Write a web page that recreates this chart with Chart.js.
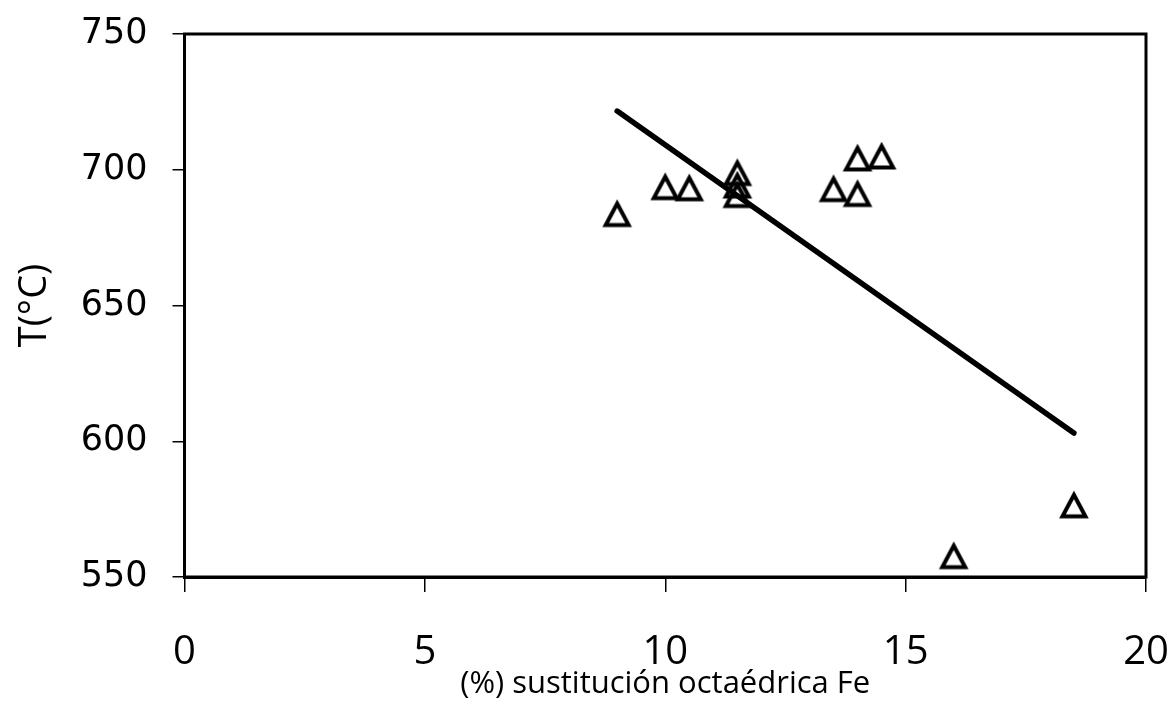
<!DOCTYPE html>
<html>
<head>
<meta charset="utf-8">
<script src="https://cdn.jsdelivr.net/npm/chart.js@4.4.1/dist/chart.umd.min.js"></script>
<style>
  html, body { margin: 0; padding: 0; background: #fff; }
  #wrap { width: 1175px; height: 704px; }
</style>
</head>
<body>
<div id="wrap"><canvas id="grafico" width="1175" height="704"></canvas></div>
<script>
// Sustitución octaédrica de Fe (%) frente a temperatura (°C)
const sustitucionFe = [9.0, 10.0, 10.5, 11.5, 11.5, 11.5, 13.5, 14.0, 14.0, 14.5, 16.0, 18.5];
const temperatura   = [683.5, 693.4, 693.0, 698.6, 694.0, 690.5, 692.7, 690.9, 704.0, 704.7, 557.5, 576.2];

// recta de ajuste (extremos)
const rectaX = [9.0, 18.5];
const rectaY = [721.6, 603.0];

const ticksX = [0, 5, 10, 15, 20];
const ticksY = [550, 600, 650, 700, 750];

// triángulo hueco centrado en su caja
function marcadorTriangulo() {
    const c = document.createElement('canvas');
    c.width = 32; c.height = 32;
    const g = c.getContext('2d');
    g.strokeStyle = '#000';
    g.lineWidth = 4;
    g.lineJoin = 'miter';
    g.beginPath();
    g.moveTo(16, 5);
    g.lineTo(27.5, 26.5);
    g.lineTo(4.5, 26.5);
    g.closePath();
    g.stroke();
    return c;
}

// marco completo del área de trazado
const marco = {
    id: 'marco',
    afterDatasetsDraw(chart) {
        const a = chart.chartArea;
        const ctx = chart.ctx;
        ctx.save();
        ctx.strokeStyle = '#000';
        ctx.lineWidth = 3;
        ctx.strokeRect(a.left, a.top, a.right - a.left, a.bottom - a.top);
        ctx.restore();
    }
};

const puntos = sustitucionFe.map((x, i) => ({ x: x, y: temperatura[i] }));
const recta = rectaX.map((x, i) => ({ x: x, y: rectaY[i] }));

new Chart(document.getElementById('grafico').getContext('2d'), {
    type: 'scatter',
    data: {
        datasets: [{
            data: recta,
            type: 'line',
            showLine: true,
            borderColor: '#000',
            borderWidth: 5.5,
            borderCapStyle: 'round',
            pointRadius: 0
        }, {
            data: puntos,
            pointStyle: marcadorTriangulo(),
            pointRadius: 16,
            pointHoverRadius: 16
        }]
    },
    plugins: [marco],
    options: {
        responsive: false,
        animation: false,
        events: [],
        layout: { padding: { top: 34, right: 29, left: 0, bottom: 0 } },
        plugins: {
            legend: { display: false },
            tooltip: { enabled: false }
        },
        scales: {
            x: {
                type: 'linear',
                min: 0,
                max: 20,
                afterBuildTicks: s => { s.ticks = ticksX.map(v => ({ value: v })); },
                afterFit: s => { s.height = 127; s.paddingLeft = 0; s.paddingRight = 0; },
                grid: { drawOnChartArea: false, tickLength: 15, color: '#000', lineWidth: 1.5 },
                border: { display: true, color: '#000', width: 3 },
                ticks: {
                    color: '#000',
                    padding: 37,
                    maxRotation: 0,
                    font: { family: 'Open Sans', size: 40 }
                },
                title: {
                    display: true,
                    text: '(%) sustitución octaédrica Fe',
                    color: '#000',
                    font: { family: 'Open Sans', size: 31 },
                    padding: { top: 0, bottom: 1 }
                }
            },
            y: {
                type: 'linear',
                min: 550,
                max: 750,
                afterBuildTicks: s => { s.ticks = ticksY.map(v => ({ value: v })); },
                afterFit: s => { s.width = 184.5; s.paddingTop = 0; s.paddingBottom = 0; },
                grid: { drawOnChartArea: false, tickLength: 12, color: '#000', lineWidth: 1.5 },
                border: { display: true, color: '#000', width: 3 },
                ticks: {
                    color: '#000',
                    padding: 25,
                    font: { family: 'DejaVu Sans', size: 35 }
                },
                title: {
                    display: true,
                    text: 'T(°C)',
                    color: '#000',
                    font: { family: 'Open Sans', size: 38 },
                    padding: { top: 12, bottom: 0 }
                }
            }
        }
    }
});
</script>
</body>
</html>
